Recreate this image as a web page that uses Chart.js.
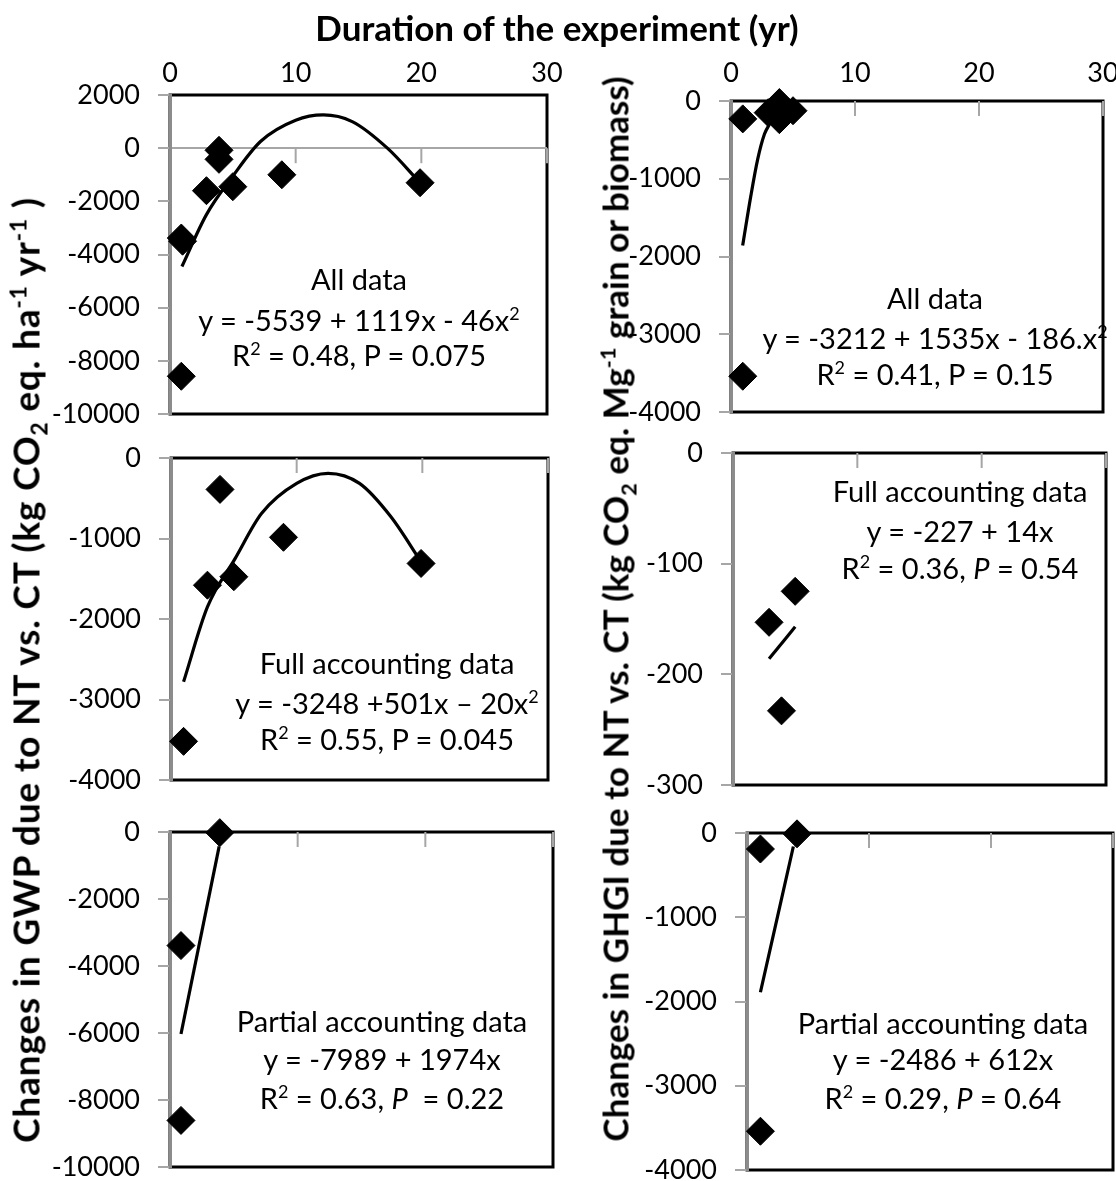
<!DOCTYPE html>
<html>
<head>
<meta charset="utf-8">
<script src="https://cdn.jsdelivr.net/npm/chart.js@4/dist/chart.umd.min.js"></script>
<style>
body { margin: 0; background: #fff; width: 1116px; height: 1181px; position: relative; overflow: hidden; font-family: Lato, sans-serif; }
canvas { position: absolute; }
.t { position: absolute; white-space: nowrap; transform: translate(-50%, -50%); color: #000; line-height: 1; }
.ann { font-size: 29px; }
.title { font-weight: bold; font-size: 35px; }
.rot { transform: translate(-50%, -50%) rotate(-90deg); }
.wide { font-size: 37px; letter-spacing: 0.8px; }
sup, sub { font-size: 0.62em; line-height: 0; }
</style>
</head>
<body>
<canvas id="p1"></canvas>
<canvas id="p2"></canvas>
<canvas id="p3"></canvas>
<canvas id="p4"></canvas>
<canvas id="p5"></canvas>
<canvas id="p6"></canvas>

<div class="t title" style="left:557px;top:27px">Duration of the experiment (yr)</div>
<div class="t title rot wide" style="left:25px;top:670px">Changes in GWP due to NT vs. CT (kg CO<sub>2</sub> eq. ha<sup>-1</sup> yr<sup>-1</sup> )</div>
<div class="t title rot" style="left:615px;top:609px">Changes in GHGI due to NT vs. CT (kg CO<sub>2</sub> eq. Mg<sup>-1</sup> grain or biomass)</div>

<div class="t ann" style="left:359px;top:278px">All data</div>
<div class="t ann" style="left:359px;top:319px">y = -5539 + 1119x - 46x<sup>2</sup></div>
<div class="t ann" style="left:359px;top:354px">R<sup>2</sup> = 0.48, P = 0.075</div>

<div class="t ann" style="left:935px;top:297px">All data</div>
<div class="t ann" style="left:935px;top:337px">y = -3212 + 1535x - 186.x<sup>2</sup></div>
<div class="t ann" style="left:935px;top:373px">R<sup>2</sup> = 0.41, P = 0.15</div>

<div class="t ann" style="left:387px;top:662px">Full accounting data</div>
<div class="t ann" style="left:387px;top:702px">y = -3248 +501x – 20x<sup>2</sup></div>
<div class="t ann" style="left:387px;top:738px">R<sup>2</sup> = 0.55, P = 0.045</div>

<div class="t ann" style="left:960px;top:490px">Full accounting data</div>
<div class="t ann" style="left:960px;top:530px">y = -227 + 14x</div>
<div class="t ann" style="left:960px;top:567px">R<sup>2</sup> = 0.36, <i>P</i> = 0.54</div>

<div class="t ann" style="left:382px;top:1020px">Partial accounting data</div>
<div class="t ann" style="left:382px;top:1058px">y = -7989 + 1974x</div>
<div class="t ann" style="left:382px;top:1097px">R<sup>2</sup> = 0.63, <i>P</i>&nbsp; = 0.22</div>

<div class="t ann" style="left:943px;top:1022px">Partial accounting data</div>
<div class="t ann" style="left:943px;top:1058px">y = -2486 + 612x</div>
<div class="t ann" style="left:943px;top:1097px">R<sup>2</sup> = 0.29, <i>P</i> = 0.64</div>

<script>
// duration of the experiment (yr)
var xTicks = [0, 10, 20, 30];

// GWP change, all data
var gwpAllX = [0.9, 1.0, 0.9, 2.9, 3.9, 3.9, 5.0, 8.9, 19.9];
var gwpAllY = [-3380, -3500, -8580, -1600, -80, -420, -1450, -1000, -1300];
var gwpAllFitX = [0.95, 2.9, 5.0, 7.2, 10, 12.2, 14.5, 17.3, 19.9];
var gwpAllFitY = [-4450, -2500, -1050, 250, 1050, 1250, 1000, 0, -1300];

// GHGI change, all data
var ghgiAllX = [0.95, 0.95, 3.0, 3.9, 3.9, 5.0];
var ghgiAllY = [-230, -3540, -150, -20, -240, -125];
var ghgiAllFitX = [0.94, 1.6, 2.15, 2.7, 3.1, 3.6];
var ghgiAllFitY = [-1860, -1220, -750, -425, -300, -150];

// GWP change, full accounting
var gwpFullX = [1.0, 2.9, 3.9, 5.0, 8.95, 19.9];
var gwpFullY = [-3520, -1580, -390, -1475, -985, -1310];
var gwpFullFitX = [1.0, 2.9, 5.1, 7.2, 10, 12.5, 15, 17.5, 19.9];
var gwpFullFitY = [-2780, -1850, -1250, -690, -315, -190, -315, -730, -1290];

// GHGI change, full accounting
var ghgiFullX = [2.9, 3.9, 5.0];
var ghgiFullY = [-153, -233, -125];
var ghgiFullFitX = [2.9, 5.0];
var ghgiFullFitY = [-186, -157];

// GWP change, partial accounting
var gwpPartX = [0.86, 0.86, 3.9];
var gwpPartY = [-3390, -8610, -20];
var gwpPartFitX = [0.86, 3.85];
var gwpPartFitY = [-6030, -430];

// GHGI change, partial accounting
var ghgiPartX = [1.1, 1.1, 4.1];
var ghgiPartY = [-190, -3540, -10];
var ghgiPartFitX = [1.1, 3.8];
var ghgiPartFitY = [-1890, -160];

function pairs(xs, ys) {
    var out = [];
    for (var i = 0; i < xs.length; i++) out.push({ x: xs[i], y: ys[i] });
    return out;
}

// black plot frame, drawn under the grey y axis line
var framePlugin = {
    id: 'frame',
    beforeDraw: function (chart) {
        var a = chart.chartArea, c = chart.ctx;
        c.save();
        c.strokeStyle = '#000';
        c.lineWidth = 3;
        c.strokeRect(a.left, a.top, a.right - a.left, a.bottom - a.top);
        c.restore();
    }
};

// grey x tick marks hanging down from the y = 0 line
var xTickPlugin = {
    id: 'xticks',
    beforeDatasetsDraw: function (chart) {
        var c = chart.ctx, sx = chart.scales.x, sy = chart.scales.y;
        var y0 = sy.getPixelForValue(0);
        c.save();
        c.strokeStyle = '#a6a6a6';
        c.lineWidth = 2;
        for (var i = 1; i < xTicks.length; i++) {
            var px = sx.getPixelForValue(xTicks[i]);
            c.beginPath();
            c.moveTo(px, y0);
            c.lineTo(px, y0 + 15);
            c.stroke();
        }
        c.restore();
    }
};

function drawPanel(id, box, yMin, yMax, yStep, pts, fit, showX) {
    var cv = document.getElementById(id);
    var yW = 130, topH = showX ? 62 : 0, padT = showX ? 0 : 24, padR = 16, padB = 20;
    // x labels sit on one row at y ~ 72 over both top panels
    var xLabPad = box.t - 25 - 72;
    cv.width = box.r - box.l + yW + padR;
    cv.height = box.b - box.t + topH + padT + padB;
    cv.style.left = (box.l - yW) + 'px';
    cv.style.top = (box.t - topH - padT) + 'px';

    new Chart(cv, {
        type: 'scatter',
        data: {
            datasets: [
                { data: pts, pointStyle: 'rectRot', pointRadius: 14, backgroundColor: '#000', borderColor: '#000', borderWidth: 1, clip: false, order: 1 },
                { data: fit, showLine: true, pointRadius: 0, borderColor: '#000', borderWidth: 3.2, cubicInterpolationMode: 'monotone', clip: false, order: 2 }
            ]
        },
        options: {
            responsive: false,
            animation: false,
            devicePixelRatio: 1,
            layout: { padding: { left: 0, top: padT, right: padR, bottom: padB } },
            plugins: { legend: { display: false }, tooltip: { enabled: false } },
            scales: {
                x: {
                    type: 'linear', position: 'top', min: xTicks[0], max: xTicks[xTicks.length - 1],
                    ticks: { display: showX, stepSize: 10, font: { family: 'Lato', size: 27 }, color: '#000', padding: xLabPad, maxRotation: 0,
                        callback: function (v) { return String(v); } },
                    grid: { display: false },
                    border: { display: false },
                    afterFit: function (s) { s.height = topH; s.paddingLeft = 0; s.paddingRight = 0; }
                },
                y: {
                    min: yMin, max: yMax,
                    ticks: { stepSize: yStep, font: { family: 'Lato', size: 27 }, color: '#000', padding: 18,
                        callback: function (v) { return String(v); } },
                    grid: {
                        drawOnChartArea: true,
                        color: function (c) { return (c.tick && c.tick.value === 0 && yMax !== 0) ? '#a6a6a6' : 'rgba(0,0,0,0)'; },
                        tickColor: '#a6a6a6', tickLength: 12, lineWidth: 2
                    },
                    border: { color: '#8c8c8c', width: 3 },
                    afterFit: function (s) { s.width = yW; s.paddingTop = 0; s.paddingBottom = 0; }
                }
            }
        },
        plugins: [framePlugin, xTickPlugin]
    });
}

drawPanel('p1', { l: 170, t: 95, r: 547, b: 414 }, -10000, 2000, 2000, pairs(gwpAllX, gwpAllY), pairs(gwpAllFitX, gwpAllFitY), true);
drawPanel('p2', { l: 731, t: 101, r: 1103, b: 412 }, -4000, 0, 1000, pairs(ghgiAllX, ghgiAllY), pairs(ghgiAllFitX, ghgiAllFitY), true);
drawPanel('p3', { l: 171, t: 458, r: 548, b: 780 }, -4000, 0, 1000, pairs(gwpFullX, gwpFullY), pairs(gwpFullFitX, gwpFullFitY), false);
drawPanel('p4', { l: 733, t: 453, r: 1106, b: 785 }, -300, 0, 100, pairs(ghgiFullX, ghgiFullY), pairs(ghgiFullFitX, ghgiFullFitY), false);
drawPanel('p5', { l: 170, t: 832, r: 553, b: 1167 }, -10000, 0, 2000, pairs(gwpPartX, gwpPartY), pairs(gwpPartFitX, gwpPartFitY), false);
drawPanel('p6', { l: 747, t: 833, r: 1113, b: 1170 }, -4000, 0, 1000, pairs(ghgiPartX, ghgiPartY), pairs(ghgiPartFitX, ghgiPartFitY), false);
</script>
</body>
</html>
